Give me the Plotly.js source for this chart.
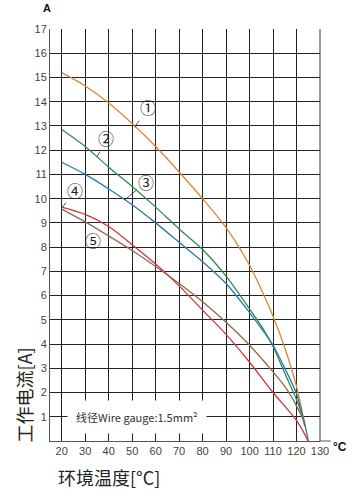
<!DOCTYPE html>
<html><head><meta charset="utf-8">
<script src="https://cdn.plot.ly/plotly-3.0.1.min.js"></script>
<style>html,body{margin:0;padding:0;background:#fff}#chart{width:363px;height:490px}</style>
</head><body><div id="chart"></div>
<script>
// Ambient temperature (°C) and working current (A) for each curve
const temp1 = [20, 30, 40, 50, 60, 70, 80, 90, 100, 105, 110, 115, 120, 123.5];
const curr1 = [15.2, 14.65, 13.95, 13.1, 12.15, 11.1, 10.0, 8.8, 7.25, 6.25, 5.15, 3.85, 2.25, 0.7];
const temp2 = [20, 30, 40, 50, 60, 70, 80, 90, 100, 105, 110, 115, 120, 123, 125];
const curr2 = [12.85, 12.15, 11.3, 10.5, 9.65, 8.75, 7.9, 6.8, 5.45, 4.75, 3.9, 2.8, 1.7, 0.9, 0];
const temp3 = [20, 30, 40, 50, 60, 70, 80, 90, 100, 105, 110, 115, 120, 123.5];
const curr3 = [11.5, 11.0, 10.4, 9.75, 9.0, 8.2, 7.4, 6.5, 5.3, 4.65, 3.95, 3.0, 1.95, 0.6];
const temp4 = [20, 30, 40, 50, 60, 70, 80, 90, 100, 110, 120, 125];
const curr4 = [9.65, 9.35, 8.85, 8.1, 7.3, 6.4, 5.4, 4.4, 3.25, 2.0, 0.85, 0];
const temp5 = [20, 30, 40, 50, 60, 70, 80, 90, 100, 110, 115, 120, 123.5];
const curr5 = [9.57, 9.04, 8.46, 7.86, 7.2, 6.5, 5.75, 4.9, 3.95, 2.85, 2.25, 1.45, 0.75];

const curveNames = ['①', '②', '③', '④', '⑤'];
const curveColors = ['#dc8636', '#2e8a52', '#2b78ad', '#d23340', '#8e6a4e'];
// label leader anchor points on curves and label offsets
const labelX = [51.1, 35.2, 46.9, 20.3, 34.4];
const labelY = [12.95, 11.75, 9.95, 9.65, 8.78];
const labelDX = [13, 9, 21, 13, -3];
const labelDY = [-20, -18, -18, -17, 12];

const xTicks = [20, 30, 40, 50, 60, 70, 80, 90, 100, 110, 120, 130];
const yTicks = [1, 2, 3, 4, 5, 6, 7, 8, 9, 10, 11, 12, 13, 14, 15, 16, 17];
const noteText = '线径Wire gauge:1.5mm²';
const xTitle = '环境温度[°C]';
const yTitle = '工作电流[A]';

const temps = [temp1, temp2, temp3, temp4, temp5];
const currs = [curr1, curr2, curr3, curr4, curr5];

const traces = temps.map((t, i) => ({
  x: t, y: currs[i], type: 'scatter', mode: 'lines', name: curveNames[i],
  line: {color: curveColors[i], width: 1.3, shape: 'spline', smoothing: 0.8},
  hoverinfo: 'skip'
}));

const tickFont = {family: 'Liberation Sans, Arial, sans-serif', size: 11, color: '#444'};
const annotations = labelX.map((x, i) => ({
  x: x, y: labelY[i], xref: 'x', yref: 'y', text: curveNames[i],
  showarrow: true, arrowhead: 0, arrowwidth: 0.8, arrowcolor: '#222',
  ax: labelDX[i], ay: labelDY[i], standoff: 0, startstandoff: 0,
  font: {family: 'Noto Sans CJK SC', size: 16, color: '#222'}
}));
annotations.push({
  x: 52, y: 1, xref: 'x', yref: 'y', text: noteText, showarrow: false,
  bgcolor: '#fff', borderpad: 8, xanchor: 'center', yanchor: 'middle',
  font: {family: 'Noto Sans CJK SC', size: 11, color: '#333'}
});
annotations.push({
  x: -0.0963, y: 0.113, xref: 'paper', yref: 'paper', text: yTitle, showarrow: false,
  textangle: -90, xanchor: 'center', yanchor: 'middle',
  font: {family: 'Noto Sans CJK SC', size: 18, color: '#222'}
});
annotations.push({
  x: 0.22, y: -0.0866, xref: 'paper', yref: 'paper', text: xTitle, showarrow: false,
  xanchor: 'center', yanchor: 'middle',
  font: {family: 'Noto Sans CJK SC', size: 18, color: '#222'}
});
annotations.push({
  x: -0.012, y: 1.05, xref: 'paper', yref: 'paper', text: '<b>A</b>', showarrow: false,
  xanchor: 'center', yanchor: 'middle',
  font: {family: 'Liberation Sans, Arial', size: 11, color: '#111'}
});
annotations.push({
  x: 1.074, y: -0.015, xref: 'paper', yref: 'paper', text: '<b>°C</b>', showarrow: false,
  xanchor: 'center', yanchor: 'middle',
  font: {family: 'Liberation Sans, Arial', size: 12, color: '#111'}
});

const layout = {
  width: 363, height: 490,
  margin: {l: 50, r: 43, t: 29, b: 49},
  paper_bgcolor: '#fff', plot_bgcolor: '#fff',
  showlegend: false,
  xaxis: {
    range: [15, 130], tickvals: xTicks, ticktext: xTicks.map(String),
    showgrid: true, gridcolor: '#222', gridwidth: 1,
    zeroline: false, showline: true, linecolor: '#555', linewidth: 1,
    ticks: '', tickfont: tickFont, fixedrange: true
  },
  yaxis: {
    range: [0, 17], tickvals: yTicks, ticktext: yTicks.map(String),
    showgrid: true, gridcolor: '#222', gridwidth: 1,
    zeroline: false, showline: true, linecolor: '#555', linewidth: 1,
    ticks: '', tickfont: tickFont, fixedrange: true
  },
  shapes: [
    {type: 'line', xref: 'paper', yref: 'paper', x0: 1, x1: 1.04, y0: 0, y1: 0,
     line: {color: '#555', width: 1}},
    {type: 'line', xref: 'paper', yref: 'paper', x0: 1, x1: 1, y0: 0, y1: 1,
     line: {color: '#999', width: 2}, layer: 'below'}
  ],
  annotations: annotations
};

Plotly.newPlot('chart', traces, layout, {displayModeBar: false, staticPlot: true});
</script></body></html>
